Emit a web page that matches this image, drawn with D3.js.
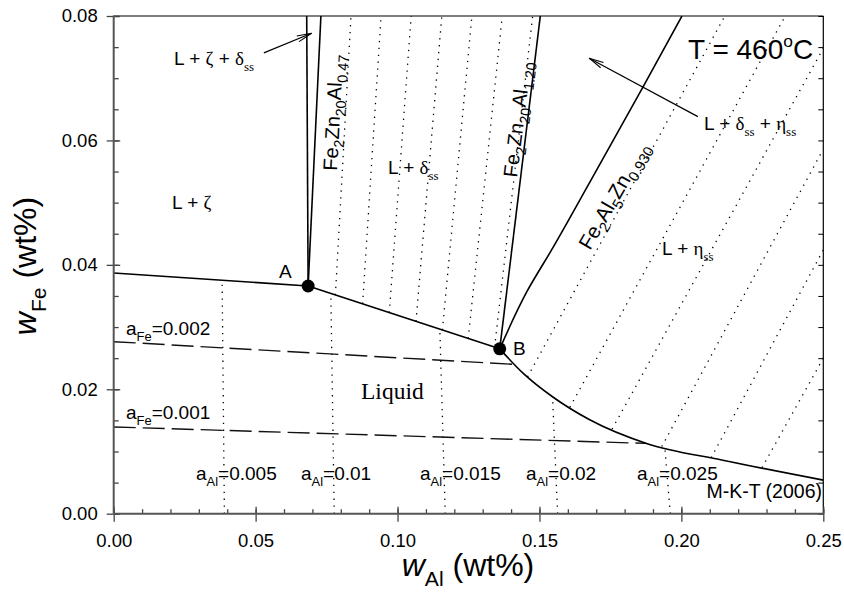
<!DOCTYPE html>
<html><head><meta charset="utf-8">
<script src="https://cdn.jsdelivr.net/npm/d3@7"></script>
<style>
body{margin:0;background:#fff}
svg{display:block}
text{font-family:"Liberation Sans",Arial,sans-serif;fill:#000;white-space:pre}
</style>
</head><body>
<svg id="c" width="844" height="596"></svg>
<script>
// ---------- data (wt% Al, wt% Fe) ----------
const xTicks = [0, 0.05, 0.10, 0.15, 0.20, 0.25];
const yTicks = [0, 0.02, 0.04, 0.06, 0.08];
const invariantPoints = [[0.0685, 0.0366], [0.1360, 0.0265]];
const invariantNames = ["A", "B"];
const liquidusZeta = [[0, 0.0387], [0.0685, 0.0366]];
const liquidusDelta = [[0.0685, 0.0366], [0.1360, 0.0265]];
const liquidusEta = [[0.1360, 0.0265], [0.1442, 0.0226], [0.1546, 0.0188], [0.1677, 0.0151],
                     [0.1877, 0.0113], [0.2146, 0.0086], [0.2500, 0.0054]];
const zetaTie = [[0.0685, 0.0366], [0.0680, 0.0800]];
const delta047Tie = [[0.0685, 0.0366], [0.0730, 0.0800]];
const delta120Tie = [[0.1360, 0.0265], [0.1503, 0.0800]];
const fe2al5Boundary = [[0.1360, 0.0265], [0.1457, 0.0358], [0.1548, 0.0428], [0.1713, 0.0562],
                        [0.1865, 0.0686], [0.2002, 0.0800]];
const aFe002 = [[0, 0.02765], [0.1413, 0.0240]];
const aFe001 = [[0, 0.01394], [0.1877, 0.0113]];
const aFeLabels = ["0.002", "0.001"];
const aAlLabels = ["0.005", "0.01", "0.015", "0.02", "0.025"];
const aAlLines = [
  [[0.0390, 0], [0.0382, 0.0375]],
  [[0.0777, 0], [0.0765, 0.0354]],
  [[0.1168, 0], [0.1149, 0.0297]],
  [[0.1564, 0], [0.1546, 0.0188]],
  [[0.1961, 0], [0.1942, 0.0104]]
];
const deltaTieLines = [
  [[0.0781, 0.03515], [0.0836, 0.08]],
  [[0.0877, 0.03373], [0.0942, 0.08]],
  [[0.0971, 0.03232], [0.1048, 0.08]],
  [[0.1065, 0.03092], [0.1156, 0.08]],
  [[0.1158, 0.02952], [0.1262, 0.08]],
  [[0.1249, 0.02816], [0.1369, 0.08]],
  [[0.1342, 0.02677], [0.1476, 0.08]]
];
const etaTieLines = [
  [[0.1458, 0.0220], [0.2153, 0.0800]],
  [[0.1607, 0.0171], [0.2366, 0.0800]],
  [[0.1756, 0.0136], [0.2500, 0.0748]],
  [[0.1931, 0.0108], [0.2500, 0.0586]],
  [[0.2105, 0.0090], [0.2500, 0.0424]],
  [[0.2284, 0.0074], [0.2500, 0.0250]]
];
const arrowZeta = [[0.0529, 0.07407], [0.0697, 0.07723]];
const arrowEta = [[0.2058, 0.06383], [0.1675, 0.07322]];

// ---------- setup ----------
const svg = d3.select("#c");
const L = 113.7, R = 823.3, T = 16, B = 513.7;
const x = d3.scaleLinear().domain([0, 0.25]).range([L, R]);
const y = d3.scaleLinear().domain([0, 0.08]).range([B, T]);
const SERIF = '"Liberation Serif","Times New Roman",serif';
const mkLine = (curve) => d3.line().x(d => x(d[0])).y(d => y(d[1])).curve(curve || d3.curveLinear);

function rich(g, px, py, parts, size, opts = {}) {
  const t = g.append("text").attr("x", px).attr("y", py).attr("font-size", size);
  if (opts.rotate != null) t.attr("transform", `rotate(${opts.rotate},${px},${py})`);
  if (opts.anchor) t.attr("text-anchor", opts.anchor);
  let off = 0;
  parts.forEach(([s, k]) => {
    let target = 0, fs = size, fam = null, it = false;
    if (k === "sub" || k === "subSerif") { target = size * (opts.subShift || 0.3); fs = size * (opts.subScale || 0.68); }
    if (k === "sup") { target = -size * 0.42; fs = size * 0.62; }
    if (k === "greek" || k === "subSerif") fam = SERIF;
    if (k === "it") it = true;
    const sp = t.append("tspan").attr("dy", (target - off).toFixed(2)).attr("font-size", fs).text(s);
    if (fam) sp.style("font-family", fam);
    if (it) sp.style("font-style", "italic");
    off = target;
  });
  return t;
}

const plot = svg.append("g");
svg.append("defs").append("clipPath").attr("id", "clip")
  .append("rect").attr("x", L).attr("y", T).attr("width", R - L).attr("height", B - T);
const inner = plot.append("g").attr("clip-path", "url(#clip)");

// dotted lines: iso-aAl and tie lines
const dotted = (pts) => inner.append("path").attr("d", mkLine()(pts)).attr("fill", "none")
  .attr("stroke", "#000").attr("stroke-width", 1.3).attr("stroke-dasharray", "1.3,5.6");
aAlLines.forEach(dotted);
deltaTieLines.forEach(dotted);
etaTieLines.forEach(dotted);

// dashed iso-aFe
[aFe002, aFe001].forEach(pts => inner.append("path").attr("d", mkLine()(pts)).attr("fill", "none")
  .attr("stroke", "#111").attr("stroke-width", 1.4).attr("stroke-dasharray", "22,7"));

// solid boundaries
const solid = (pts, curve) => inner.append("path").attr("d", mkLine(curve)(pts))
  .attr("fill", "none").attr("stroke", "#000").attr("stroke-width", 1.6);
solid(liquidusZeta);
solid(liquidusDelta);
solid(liquidusEta, d3.curveMonotoneX);
solid(zetaTie);
solid(delta047Tie);
solid(delta120Tie);
solid(fe2al5Boundary, d3.curveMonotoneY);

// arrows
function arrow(pts) {
  const [p0, p1] = pts.map(d => [x(d[0]), y(d[1])]);
  plot.append("line").attr("x1", p0[0]).attr("y1", p0[1]).attr("x2", p1[0]).attr("y2", p1[1])
    .attr("stroke", "#000").attr("stroke-width", 1.2);
  const ang = Math.atan2(p1[1] - p0[1], p1[0] - p0[0]);
  [-0.2, 0.2].forEach(da => {
    const a = ang + Math.PI + da;
    plot.append("line").attr("x1", p1[0]).attr("y1", p1[1])
      .attr("x2", p1[0] + 15 * Math.cos(a)).attr("y2", p1[1] + 15 * Math.sin(a))
      .attr("stroke", "#000").attr("stroke-width", 1.1);
  });
}
arrow(arrowZeta);
arrow(arrowEta);

// invariant points
plot.selectAll("circle.inv").data(invariantPoints).join("circle").attr("class", "inv")
  .attr("cx", d => x(d[0])).attr("cy", d => y(d[1])).attr("r", 6.5).attr("fill", "#000");

// ---------- axes ----------
const ax = svg.append("g");
ax.append("line").attr("x1", L).attr("x2", R).attr("y1", T).attr("y2", T).attr("stroke", "#000").attr("stroke-width", 1.2);
ax.append("line").attr("x1", R).attr("x2", R).attr("y1", T).attr("y2", B).attr("stroke", "#000").attr("stroke-width", 1.2);
const gx = ax.append("g").attr("transform", `translate(0,${B})`)
  .call(d3.axisBottom(x).tickValues(xTicks).tickFormat(d3.format(".2f")).tickSize(8).tickPadding(12));
const gx2 = ax.append("g").attr("transform", `translate(0,${B})`)
  .call(d3.axisBottom(x).tickValues(x.ticks(25)).tickFormat("").tickSize(-4.5));
const gx3 = ax.append("g").attr("transform", `translate(0,${B})`)
  .call(d3.axisBottom(x).tickValues(xTicks).tickFormat("").tickSize(-7));
const gy = ax.append("g").attr("transform", `translate(${L},0)`)
  .call(d3.axisLeft(y).tickValues(yTicks).tickFormat(d3.format(".2f")).tickSize(7).tickPadding(9));
const gy2 = ax.append("g").attr("transform", `translate(${L},0)`)
  .call(d3.axisLeft(y).tickValues(y.ticks(20)).tickFormat("").tickSize(-5));
const gy3 = ax.append("g").attr("transform", `translate(${L},0)`)
  .call(d3.axisLeft(y).tickValues(yTicks).tickFormat("").tickSize(-6.5));
const gyr = ax.append("g").attr("transform", `translate(${R},0)`)
  .call(d3.axisRight(y).tickValues(y.ticks(20)).tickFormat("").tickSize(-5));
[gx, gx2, gx3, gy, gy2, gy3, gyr].forEach(g => {
  g.selectAll(".domain").remove();
  g.selectAll(".tick line").attr("stroke", "#444").attr("stroke-width", 1.3);
  g.selectAll(".tick text").attr("font-size", 18.5).attr("font-family", '"Liberation Sans",Arial,sans-serif').attr("fill", "#000");
});
gyr.selectAll(".tick line").attr("stroke", "#000").attr("stroke-width", 1);
ax.append("line").attr("x1", L).attr("x2", R + 0.6).attr("y1", B).attr("y2", B).attr("stroke", "#555").attr("stroke-width", 2);
ax.append("line").attr("x1", L).attr("x2", L).attr("y1", T - 0.6).attr("y2", B).attr("stroke", "#555").attr("stroke-width", 2);

// axis titles
rich(svg, 468, 576, [["w", "it"], ["Al", "sub"], [" (wt%)", "n"]], 32, { anchor: "middle", subScale: 0.66, subShift: 0.3 });
rich(svg, 36, 266, [["w", "it"], ["Fe", "sub"], [" (wt%)", "n"]], 32, { anchor: "middle", rotate: -90, subScale: 0.66, subShift: 0.3 });

// ---------- annotations ----------
const ann = svg.append("g");
const FS = 19;
rich(ann, 174, 65, [["L + ", "n"], ["ζ", "greek"], [" + ", "n"], ["δ", "greek"], ["ss", "subSerif"]], FS);
rich(ann, 172, 209, [["L + ", "n"], ["ζ", "greek"]], FS);
rich(ann, 388, 174, [["L + ", "n"], ["δ", "greek"], ["ss", "subSerif"]], FS);
rich(ann, 704, 130, [["L + ", "n"], ["δ", "greek"], ["ss", "subSerif"], [" + ", "n"], ["η", "greek"], ["ss", "subSerif"]], FS);
rich(ann, 662, 255, [["L + ", "n"], ["η", "greek"], ["ss", "subSerif"]], FS);
rich(ann, 688, 59, [["T = 460", "n"], ["o", "sup"], ["C", "n"]], 28);
ann.append("text").attr("x", 361).attr("y", 399).attr("font-size", 23.5).style("font-family", SERIF).text("Liquid");
ann.append("text").attr("x", 822).attr("y", 498).attr("font-size", 19.5).attr("text-anchor", "end").text("M-K-T (2006)");

const invLabelPos = [[279, 278], [513, 355]];
invariantNames.forEach((n, i) => ann.append("text").attr("x", invLabelPos[i][0]).attr("y", invLabelPos[i][1]).attr("font-size", 19).text(n));

const aFeLabelPos = [[126, 335], [126, 419]];
aFeLabels.forEach((v, i) => rich(ann, aFeLabelPos[i][0], aFeLabelPos[i][1], [["a", "n"], ["Fe", "sub"], ["=" + v, "n"]], FS));
const aAlLabelX = [196, 301, 420, 526, 637];
aAlLabels.forEach((v, i) => rich(ann, aAlLabelX[i], 480, [["a", "n"], ["Al", "sub"], ["=" + v, "n"]], FS));

const cOpt = (r) => ({ rotate: r, subScale: 0.72, subShift: 0.28 });
rich(ann, 337, 171, [["Fe", "n"], ["2", "sub"], ["Zn", "n"], ["20", "sub"], ["Al", "n"], ["0.47", "sub"]], 20, cOpt(-87));
rich(ann, 517, 178, [["Fe", "n"], ["2", "sub"], ["Zn", "n"], ["20", "sub"], ["Al", "n"], ["1.20", "sub"]], 20, cOpt(-83));
rich(ann, 590, 251, [["Fe", "n"], ["2", "sub"], ["Al", "n"], ["5", "sub"], ["Zn", "n"], ["0.930", "sub"]], 20.5, cOpt(-60));
</script>
</body></html>
